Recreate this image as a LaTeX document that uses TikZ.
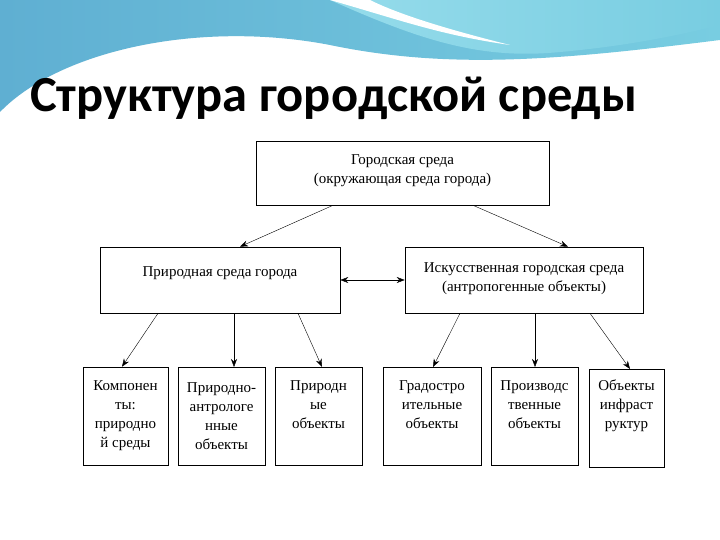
\documentclass[tikz,border=0pt]{standalone}
\usepackage{fontspec}
\setmainfont{Liberation Serif}
\newfontfamily\titlefont{Carlito}
\usetikzlibrary{arrows.meta}
\definecolor{waveA}{RGB}{95,175,210}
\definecolor{waveB}{RGB}{120,205,225}
\definecolor{waveC}{RGB}{150,220,235}
\begin{document}
\begin{tikzpicture}[x=1pt,y=-1pt,
  box/.style={draw,semithick,inner sep=0pt,align=center,font=\fontsize{15}{19}\selectfont},
  arr/.style={-{Stealth[length=8pt,width=6pt]},thin}]
\useasboundingbox (0,0) rectangle (720,540);
\fill[white] (0,0) rectangle (720,540);
% wave
\shade[left color=waveA,right color=waveB] (0,0) -- (0,112) .. controls (60,50) and (200,20) .. (330,45) .. controls (450,70) and (560,60) .. (720,40) -- (720,0) -- cycle;
\shade[left color=waveC,right color=waveB] (330,0) .. controls (420,40) and (480,60) .. (560,52) .. controls (640,45) and (700,30) .. (720,25) -- (720,0) -- cycle;
\fill[white] (330,0) .. controls (400,20) and (440,35) .. (510,45) .. controls (450,30) and (400,15) .. (370,0) -- cycle;
\node[anchor=base west,inner sep=0pt,font=\titlefont\bfseries\fontsize{50.5}{53}\selectfont] (title) at (30,112) {Структура городской среды};
% boxes
\node[box,minimum width=293,minimum height=64,text depth=8pt] (top) at (402.5,173) {Городская среда\\(окружающая среда города)};
\node[box,minimum width=240,minimum height=66,text depth=16pt] (L) at (220,280) {Природная среда города};
\node[box,minimum width=238,minimum height=66,text depth=6pt] (R) at (524,280) {Искусственная городская среда\\(антропогенные объекты)};
\node[box,minimum width=85,minimum height=98] (b1) at (125.5,416) {Компонен\\ты:\\природно\\й среды};
\node[box,minimum width=87,minimum height=98,anchor=north] (b2) at (221.5,367) {Природно-\\антрологе\\нные\\объекты};
\node[box,minimum width=87,minimum height=98,anchor=north,text height=24pt] (b3) at (318.5,367) {Природн\\ые\\объекты};
\node[box,minimum width=98,minimum height=98,anchor=north,text height=24pt] (b4) at (432,367) {Градостро\\ительные\\объекты};
\node[box,minimum width=87,minimum height=98,anchor=north,text height=24pt] (b5) at (534.5,367) {Производс\\твенные\\объекты};
\node[box,minimum width=75,minimum height=98,anchor=north,text height=24pt] (b6) at (626.5,369) {Объекты\\инфраст\\руктур};
% arrows
\draw[arr] (top.south -| 333,0) -- (L.north -| 240,0);
\draw[arr] (top.south -| 473,0) -- (R.north -| 568,0);
\draw[{Stealth[length=8pt,width=6pt]}-{Stealth[length=8pt,width=6pt]},thin] (L.east) -- (R.west);
\draw[arr] (L.south -| 158,0) -- (b1.north -| 122,0);
\draw[arr] (L.south -| 234,0) -- (b2.north -| 234,0);
\draw[arr] (L.south -| 298,0) -- (b3.north -| 322,0);
\draw[arr] (R.south -| 460,0) -- (b4.north -| 433,0);
\draw[arr] (R.south -| 535,0) -- (b5.north -| 535,0);
\draw[arr] (R.south -| 590,0) -- (b6.north -| 630,0);
\end{tikzpicture}
\end{document}
